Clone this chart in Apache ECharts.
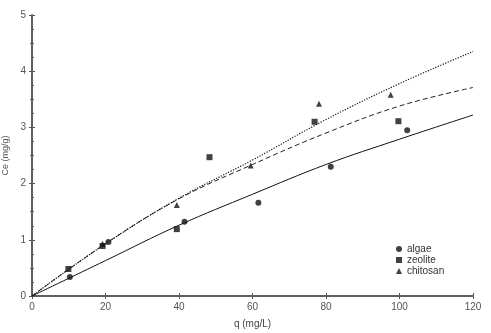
<!DOCTYPE html>
<html><head><meta charset="utf-8">
<script src="https://cdn.jsdelivr.net/npm/echarts@6/dist/echarts.min.js"></script>
<style>html,body{margin:0;padding:0;background:#fff}#c{width:491px;height:333px}</style>
</head><body><div id="c"></div>
<script>
// Measured points
const algaeX = [10.3, 20.8, 41.5, 61.6, 81.3, 102.1];
const algaeY = [0.34, 0.96, 1.32, 1.66, 2.30, 2.95];
const zeoliteX = [9.9, 19.2, 39.4, 48.3, 76.9, 99.7];
const zeoliteY = [0.48, 0.89, 1.19, 2.47, 3.10, 3.11];
const chitosanX = [19.2, 39.4, 59.5, 78.1, 97.6];
const chitosanY = [0.93, 1.62, 2.32, 3.42, 3.58];
// Fitted curves
const fitX = [0, 20, 40, 60, 80, 100, 120];
const algaeFit = [0, 0.63, 1.26, 1.81, 2.34, 2.79, 3.22];
const zeoliteFit = [0, 0.93, 1.73, 2.34, 2.90, 3.38, 3.71];
const chitosanFit = [0, 0.93, 1.74, 2.42, 3.14, 3.78, 4.35];
const xTicks = [0, 20, 40, 60, 80, 100, 120];
const yTicks = [0, 1, 2, 3, 4, 5];

const pairs = (xs, ys) => xs.map((x, i) => [x, ys[i]]);
const axisCol = '#555';
const font = 'Liberation Sans, Arial, sans-serif';
const chart = echarts.init(document.getElementById('c'), null, {renderer: 'canvas'});
chart.setOption({
  animation: false,
  backgroundColor: '#fff',
  grid: {left: 32, right: 18, top: 15, bottom: 37, containLabel: false, outerBoundsMode: 'none'},
  legend: {
    data: ['algae', 'zeolite', 'chitosan'],
    orient: 'vertical', left: 391, top: 239,
    itemWidth: 6, itemHeight: 6, itemGap: 1,
    textStyle: {fontSize: 10, color: '#333', fontFamily: font}
  },
  xAxis: [{
    type: 'value', min: 0, max: 120, interval: 20,
    name: 'q (mg/L)', nameLocation: 'middle', nameGap: 23,
    nameTextStyle: {fontSize: 10, color: '#444', fontFamily: font},
    axisLine: {lineStyle: {color: axisCol, width: 1.5}},
    axisTick: {inside: true, length: 3, lineStyle: {color: axisCol}},
    axisLabel: {fontSize: 10, color: '#555', fontFamily: font, margin: 6,
      formatter: v => xTicks.includes(v) ? String(v) : ''},
    splitLine: {show: false}
  }, {
    type: 'value', position: 'top', min: 0, max: 120, interval: 20,
    axisLine: {show: true, lineStyle: {color: axisCol, width: 1.5}},
    axisTick: {inside: true, length: 3, lineStyle: {color: axisCol}},
    axisLabel: {show: false}, splitLine: {show: false}
  }],
  yAxis: [{
    type: 'value', min: 0, max: 5, interval: 1,
    name: 'Ce (mg/g)', nameLocation: 'middle', nameGap: 18,
    nameTextStyle: {fontSize: 9, color: '#555', fontFamily: font},
    axisLine: {show: true, lineStyle: {color: axisCol, width: 1.5}},
    axisTick: {inside: true, length: 3, lineStyle: {color: axisCol}},
    minorTick: {show: true, splitNumber: 4, length: 2, lineStyle: {color: axisCol}},
    axisLabel: {fontSize: 10, color: '#555', fontFamily: font, margin: 6,
      formatter: v => yTicks.includes(v) ? String(v) : ''},
    splitLine: {show: false}
  }, {
    type: 'value', position: 'right', min: 0, max: 5, interval: 1,
    axisLine: {show: true, lineStyle: {color: axisCol, width: 1.5}},
    axisTick: {inside: true, length: 3, lineStyle: {color: axisCol}},
    minorTick: {show: true, splitNumber: 2, length: 2, lineStyle: {color: axisCol}},
    axisLabel: {show: false}, splitLine: {show: false}
  }],
  series: [
    {name: 'algae fit', type: 'line', data: pairs(fitX, algaeFit), smooth: 0.4, showSymbol: false,
      lineStyle: {color: '#111', width: 1, type: 'solid'}, z: 1},
    {name: 'zeolite fit', type: 'line', data: pairs(fitX, zeoliteFit), smooth: 0.4, showSymbol: false,
      lineStyle: {color: '#222', width: 1, type: [5, 3]}, z: 1},
    {name: 'chitosan fit', type: 'line', data: pairs(fitX, chitosanFit), smooth: 0.4, showSymbol: false,
      lineStyle: {color: '#111', width: 1.2, type: [1.2, 1.5]}, z: 1},
    {name: 'algae', type: 'scatter', data: pairs(algaeX, algaeY), symbol: 'circle', symbolSize: 6,
      itemStyle: {color: '#111'}, z: 3},
    {name: 'zeolite', type: 'scatter', data: pairs(zeoliteX, zeoliteY), symbol: 'rect', symbolSize: 6,
      itemStyle: {color: '#111'}, z: 3},
    {name: 'chitosan', type: 'scatter', data: pairs(chitosanX, chitosanY), symbol: 'triangle', symbolSize: 6,
      itemStyle: {color: '#111'}, z: 3}
  ]
});
</script></body></html>
